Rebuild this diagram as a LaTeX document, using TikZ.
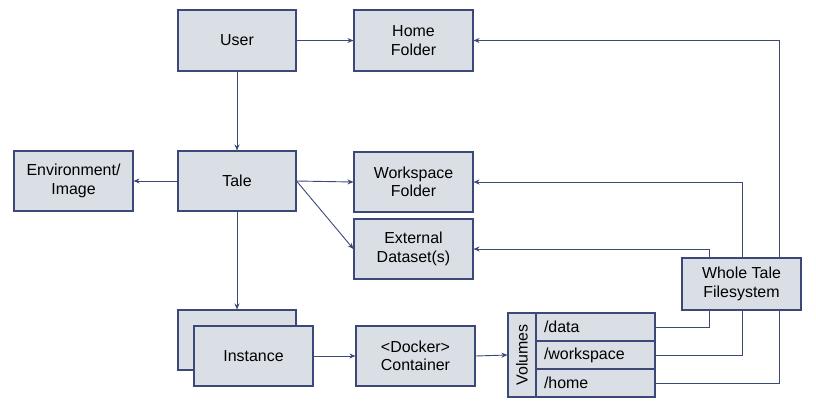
\documentclass[tikz,border=0pt]{standalone}
\usepackage{fontspec}
\setmainfont{Liberation Sans}
\usetikzlibrary{arrows.meta}
\definecolor{edgeblue}{RGB}{59,72,120}
\definecolor{boxfill}{RGB}{217,223,229}
\begin{document}
\begin{tikzpicture}[x=1bp,y=-1bp,
  box/.style={draw=edgeblue,fill=boxfill,line width=1.1bp,minimum width=119bp,minimum height=60bp,inner sep=2bp,align=center,font=\fontsize{16}{18.5}\selectfont},
  rowbox/.style={draw=edgeblue,fill=boxfill,line width=1.1bp,minimum width=119bp,minimum height=28bp,inner xsep=8bp,inner ysep=0bp,text width=103bp,align=left,font=\fontsize{16}{18.5}\selectfont},
  arr/.style={draw=edgeblue,line width=0.9bp,-{Stealth[length=6bp,width=5bp]}},
  ln/.style={draw=edgeblue,line width=0.9bp}]
\useasboundingbox (0,0) rectangle (816,406);
\node[box,minimum width=118bp,minimum height=61bp] (user) at (237,40.5) {User};
\node[box,minimum height=61bp] (home) at (413.5,40.5) {Home\\Folder};
\node[box] (env) at (73.5,181) {Environment/\\Image};
\node[box,minimum width=118bp] (tale) at (237,181) {Tale};
\node[box] (ws) at (413.5,182) {Workspace\\Folder};
\node[box] (ext) at (413.5,249) {External\\Dataset(s)};
\node[box,minimum width=118bp] (instb) at (237,340) {};
\node[box] (inst) at (253.5,356) {Instance};
\node[box] (dock) at (415.5,356) {<Docker>\\Container};
\node[box,minimum height=52bp] (wtf) at (741.5,284) {Whole Tale\\Filesystem};
\node[box,rotate=90,minimum width=84bp,minimum height=28bp,inner sep=0bp] (vol) at (522,355) {Volumes};
\node[rowbox] (rdata) at (595.5,327) {/data};
\node[rowbox] (rws) at (595.5,355) {/workspace};
\node[rowbox] (rhome) at (595.5,383) {/home};
% connectors
\draw[arr] (user.east) -- (home.west);
\draw[arr] (user.south) -- (tale.north);
\draw[arr] (tale.west) -- (env.east);
\draw[arr] (tale.east) -- (ws.west);
\draw[arr] (tale.east) -- (ext.west);
\draw[arr] (tale.south) -- (instb.north);
\draw[arr] (inst.east) -- (dock.west);
\draw[arr] (dock.east) -- (vol.north);
\draw[ln] (rdata.east) -| ([xshift=-32.5bp]wtf.south);
\draw[ln] (rws.east) -| ([xshift=0.5bp]wtf.south);
\draw[ln] (rhome.east) -| ([xshift=37.5bp]wtf.south);
\draw[arr] ([xshift=-32.5bp]wtf.north) |- (ext.east);
\draw[arr] ([xshift=0.5bp]wtf.north) |- (ws.east);
\draw[arr] ([xshift=37.5bp]wtf.north) |- (home.east);
\end{tikzpicture}
\end{document}
